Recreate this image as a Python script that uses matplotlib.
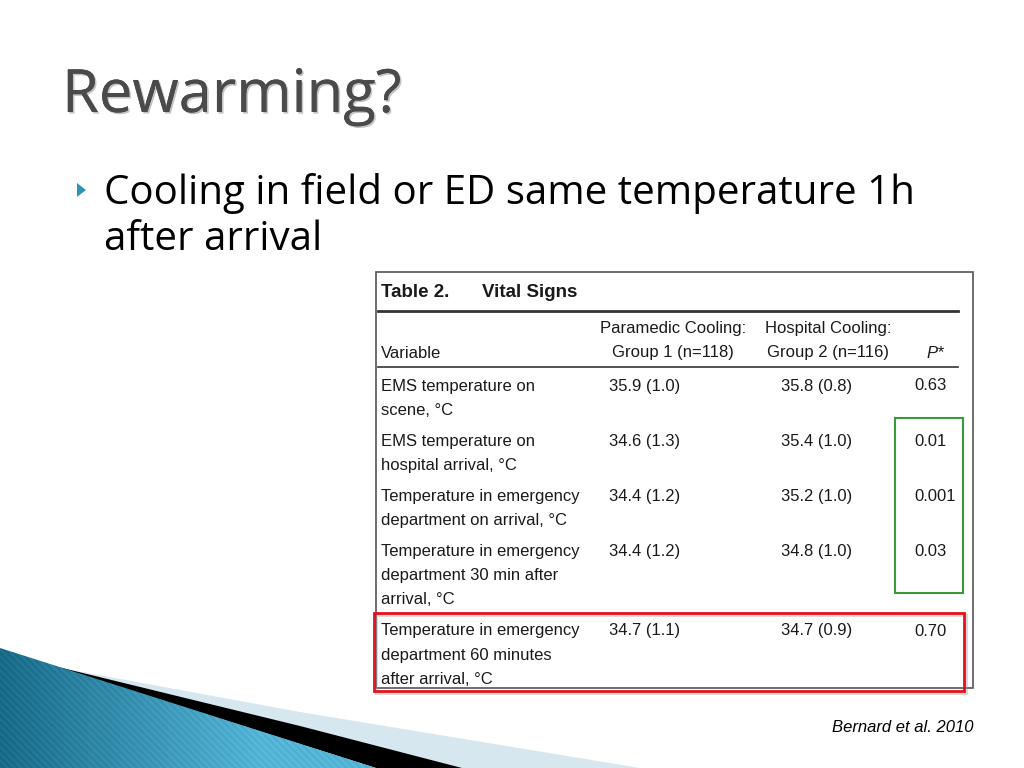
import numpy as np
import matplotlib
matplotlib.use('Agg')
import matplotlib.pyplot as plt
from matplotlib import font_manager as fm
from matplotlib.patches import Polygon, Rectangle
import matplotlib.patheffects as pe

# 幻灯片文字
title = 'Rewarming?'
bullet_lines = ['Cooling in field or ED same temperature 1h', 'after arrival']
citation = 'Bernard et al. 2010'

# 表格内容
table_title = 'Table 2.'
table_name = 'Vital Signs'
head_g1 = ['Paramedic Cooling:', 'Group 1 (n=118)']
head_g2 = ['Hospital Cooling:', 'Group 2 (n=116)']
variables = [
    ['EMS temperature on', 'scene, °C'],
    ['EMS temperature on', 'hospital arrival, °C'],
    ['Temperature in emergency', 'department on arrival, °C'],
    ['Temperature in emergency', 'department 30 min after', 'arrival, °C'],
    ['Temperature in emergency', 'department 60 minutes', 'after arrival, °C'],
]
group1 = ['35.9 (1.0)', '34.6 (1.3)', '34.4 (1.2)', '34.4 (1.2)', '34.7 (1.1)']
group2 = ['35.8 (0.8)', '35.4 (1.0)', '35.2 (1.0)', '34.8 (1.0)', '34.7 (0.9)']
pvals = ['0.63', '0.01', '0.001', '0.03', '0.70']

# 表格字体：优先窄体，没有就用 Liberation Sans
names = set(f.name for f in fm.fontManager.ttflist)
if 'Liberation Sans Narrow' in names:
    tfont, fs, fsb = 'Liberation Sans Narrow', 13.5, 14.5
else:
    tfont, fs, fsb = 'Liberation Sans', 12, 13.5
tcol = '#1a1a1a'

fig = plt.figure(figsize=(10.24, 7.68), dpi=100)
ax = fig.add_axes([0, 0, 1, 1])
ax.set_xlim(0, 1024)
ax.set_ylim(768, 0)
ax.axis('off')

# 左下角装饰
pale = Polygon([(55, 667), (300, 712), (640, 768), (440, 768)], closed=True,
               facecolor='#d6e7ef', edgecolor='none', zorder=1)
ax.add_patch(pale)
black = Polygon([(50, 665), (300, 726), (462, 768), (376, 768)], closed=True,
                facecolor='black', edgecolor='none', zorder=2)
ax.add_patch(black)
teal = Polygon([(0, 648), (376, 768), (0, 768)], closed=True,
               facecolor='none', edgecolor='none', zorder=3)
ax.add_patch(teal)
xx, yy = np.meshgrid(np.linspace(0, 380, 380), np.linspace(640, 768, 128))
t = np.clip(xx / 260, 0, 1)
c0 = np.array([0.10, 0.42, 0.54])
c1 = np.array([0.33, 0.71, 0.84])
img = c0[None, None, :] * (1 - t[..., None]) + c1[None, None, :] * t[..., None]
img = img + 0.025 * np.sin((xx - yy) * 2 * np.pi / 7)[..., None]
img = np.clip(img, 0, 1)
im = ax.imshow(img, extent=(0, 380, 768, 640), zorder=3, aspect='auto')
im.set_clip_path(teal)

# 标题与要点
ax.text(62, 112, title, fontsize=43, family='Open Sans', color='#4a4a4a',
        va='baseline', ha='left',
        path_effects=[pe.withSimplePatchShadow(offset=(1.2, -1.2), alpha=0.25), pe.Normal()])
ax.add_patch(Polygon([(77, 183), (77, 197), (86, 190)], closed=True,
                     facecolor='#2e95b5', edgecolor='none'))
for i, line in enumerate(bullet_lines):
    ax.text(104, 204 + i * 46, line, fontsize=29, family='Open Sans', color='black',
            va='baseline', ha='left')

# 表格
ax.add_patch(Rectangle((376, 272), 597, 416, facecolor='white', edgecolor='#555555',
                       lw=1.2, zorder=4))
ax.text(381, 297, table_title, fontsize=fsb, family=tfont, weight='bold',
        color=tcol, va='baseline', zorder=5)
ax.text(482, 297, table_name, fontsize=fsb, family=tfont, weight='bold',
        color=tcol, va='baseline', zorder=5)
ax.plot([378, 958], [311, 311], color='#333333', lw=2, zorder=5)
ax.plot([378, 958], [367, 367], color='#333333', lw=1.2, zorder=5)

ax.text(381, 353, 'Variable', fontsize=fs, family=tfont, color=tcol,
        va='center', zorder=5)
for j, s in enumerate(head_g1):
    ax.text(673, 329 + j * 24, s, fontsize=fs, family=tfont, color=tcol,
            va='center', ha='center', zorder=5)
for j, s in enumerate(head_g2):
    ax.text(828, 329 + j * 24, s, fontsize=fs, family=tfont, color=tcol,
            va='center', ha='center', zorder=5)
ax.text(935, 353, 'P*', fontsize=fs, family=tfont, style='italic', color=tcol,
        va='center', ha='center', zorder=5)

y = 386
for var, g1, g2, p in zip(variables, group1, group2, pvals):
    for k, s in enumerate(var):
        ax.text(381, y + k * 24.2, s, fontsize=fs, family=tfont, color=tcol,
                va='center', zorder=5)
    ax.text(609, y, g1, fontsize=fs, family=tfont, color=tcol, va='center', zorder=5)
    ax.text(781, y, g2, fontsize=fs, family=tfont, color=tcol, va='center', zorder=5)
    ax.text(914, y, p, fontsize=fs, family=tfont, color=tcol, va='center', zorder=5)
    y += len(var) * 24.2 + 6.8

# 高亮框（红框带阴影）
ax.add_patch(Rectangle((376, 615), 590, 78, facecolor='none', edgecolor='#999999',
                       lw=2, alpha=0.4, zorder=5.5))
ax.add_patch(Rectangle((895, 418), 68, 175, facecolor='none', edgecolor='#3a9a3a',
                       lw=1.5, zorder=6))
ax.add_patch(Rectangle((374, 613), 590, 78, facecolor='none', edgecolor='#e3101e',
                       lw=2, zorder=6))

ax.text(973, 732, citation, fontsize=12, family='Liberation Sans', style='italic',
        color='black', ha='right', va='baseline')

fig.savefig('out.png', dpi=100)
